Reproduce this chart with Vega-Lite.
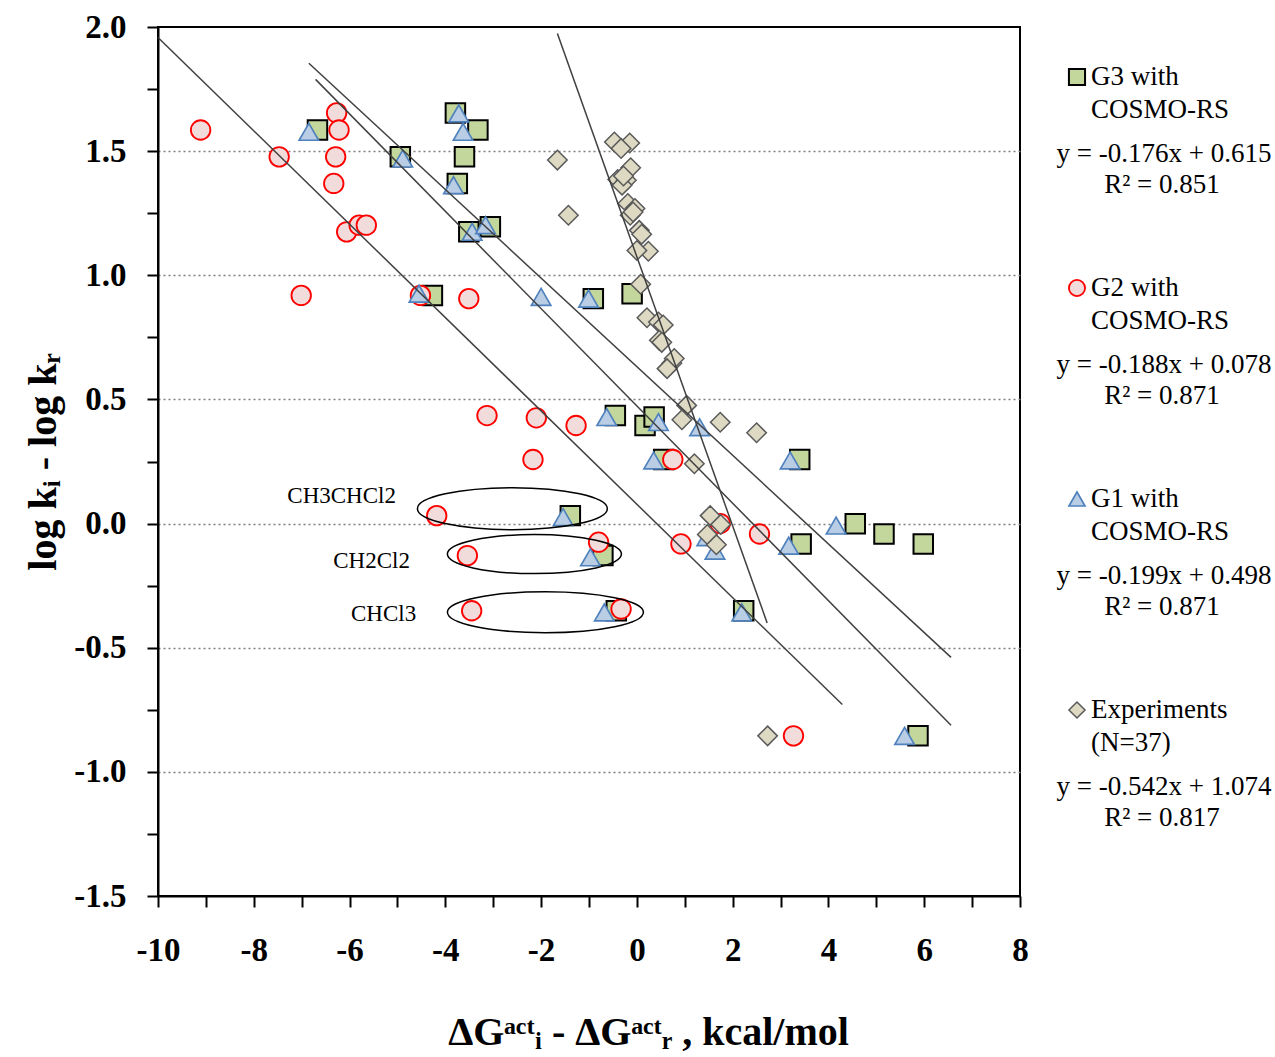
{
  "$schema": "https://vega.github.io/schema/vega-lite/v6.json",
  "width": 862,
  "height": 869,
  "autosize": {"type": "none"},
  "padding": {"left": 158, "top": 27, "right": 255, "bottom": 161},
  "background": "white",
  "config": {"view": {"stroke": "black", "strokeWidth": 2}, "font": "Liberation Serif"},
  "datasets": {
    "pts": [
      {"s": "G3", "x": -6.67, "y": 1.585}, {"s": "G3", "x": -4.94, "y": 1.477}, {"s": "G3", "x": -3.79, "y": 1.654}, {"s": "G3", "x": -3.32, "y": 1.585}, {"s": "G3", "x": -3.6, "y": 1.477},
      {"s": "G3", "x": -3.75, "y": 1.37}, {"s": "G3", "x": -3.06, "y": 1.195}, {"s": "G3", "x": -3.51, "y": 1.175}, {"s": "G3", "x": -4.27, "y": 0.919}, {"s": "G3", "x": -0.91, "y": 0.906},
      {"s": "G3", "x": -0.1, "y": 0.926}, {"s": "G3", "x": -0.45, "y": 0.435}, {"s": "G3", "x": 0.17, "y": 0.395}, {"s": "G3", "x": 0.36, "y": 0.429}, {"s": "G3", "x": 0.56, "y": 0.258},
      {"s": "G3", "x": -1.39, "y": 0.032}, {"s": "G3", "x": -0.71, "y": -0.129}, {"s": "G3", "x": -0.43, "y": -0.351}, {"s": "G3", "x": 2.23, "y": -0.351}, {"s": "G3", "x": 3.4, "y": 0.258},
      {"s": "G3", "x": 4.56, "y": -0.001}, {"s": "G3", "x": 5.16, "y": -0.042}, {"s": "G3", "x": 5.98, "y": -0.082}, {"s": "G3", "x": 3.43, "y": -0.082}, {"s": "G3", "x": 5.87, "y": -0.855},
      {"s": "G2", "x": -9.11, "y": 1.585}, {"s": "G2", "x": -6.27, "y": 1.654}, {"s": "G2", "x": -6.22, "y": 1.585}, {"s": "G2", "x": -7.47, "y": 1.477}, {"s": "G2", "x": -6.29, "y": 1.477},
      {"s": "G2", "x": -6.33, "y": 1.37}, {"s": "G2", "x": -6.06, "y": 1.175}, {"s": "G2", "x": -5.8, "y": 1.202}, {"s": "G2", "x": -5.65, "y": 1.202}, {"s": "G2", "x": -7.01, "y": 0.919},
      {"s": "G2", "x": -4.52, "y": 0.919}, {"s": "G2", "x": -3.51, "y": 0.906}, {"s": "G2", "x": -3.13, "y": 0.435}, {"s": "G2", "x": -2.1, "y": 0.426}, {"s": "G2", "x": -1.27, "y": 0.395},
      {"s": "G2", "x": -2.17, "y": 0.258}, {"s": "G2", "x": 0.75, "y": 0.258}, {"s": "G2", "x": -4.18, "y": 0.032}, {"s": "G2", "x": -3.54, "y": -0.129}, {"s": "G2", "x": -0.8, "y": -0.075},
      {"s": "G2", "x": -3.45, "y": -0.351}, {"s": "G2", "x": -0.33, "y": -0.344}, {"s": "G2", "x": 1.74, "y": 0.0}, {"s": "G2", "x": 0.92, "y": -0.082}, {"s": "G2", "x": 2.56, "y": -0.042},
      {"s": "G2", "x": 3.27, "y": -0.855},
      {"s": "G1", "x": -6.85, "y": 1.578}, {"s": "G1", "x": -4.89, "y": 1.47}, {"s": "G1", "x": -3.72, "y": 1.652}, {"s": "G1", "x": -3.63, "y": 1.578}, {"s": "G1", "x": -3.83, "y": 1.363},
      {"s": "G1", "x": -3.44, "y": 1.175}, {"s": "G1", "x": -3.16, "y": 1.202}, {"s": "G1", "x": -4.55, "y": 0.926}, {"s": "G1", "x": -2.0, "y": 0.913}, {"s": "G1", "x": -1.01, "y": 0.906},
      {"s": "G1", "x": -0.63, "y": 0.429}, {"s": "G1", "x": 0.45, "y": 0.409}, {"s": "G1", "x": 1.31, "y": 0.388}, {"s": "G1", "x": 0.35, "y": 0.254}, {"s": "G1", "x": -1.54, "y": 0.026},
      {"s": "G1", "x": -0.97, "y": -0.136}, {"s": "G1", "x": -0.68, "y": -0.358}, {"s": "G1", "x": 2.19, "y": -0.358}, {"s": "G1", "x": 1.46, "y": -0.055}, {"s": "G1", "x": 1.63, "y": -0.109},
      {"s": "G1", "x": 3.2, "y": 0.254}, {"s": "G1", "x": 4.16, "y": -0.008}, {"s": "G1", "x": 3.17, "y": -0.089}, {"s": "G1", "x": 5.59, "y": -0.855},
      {"s": "Exp", "x": -1.66, "y": 1.464}, {"s": "Exp", "x": -1.43, "y": 1.242}, {"s": "Exp", "x": -0.47, "y": 1.537}, {"s": "Exp", "x": -0.15, "y": 1.533}, {"s": "Exp", "x": -0.33, "y": 1.511},
      {"s": "Exp", "x": -0.13, "y": 1.433}, {"s": "Exp", "x": -0.4, "y": 1.386}, {"s": "Exp", "x": -0.22, "y": 1.383}, {"s": "Exp", "x": -0.31, "y": 1.363}, {"s": "Exp", "x": -0.28, "y": 1.4},
      {"s": "Exp", "x": -0.19, "y": 1.289}, {"s": "Exp", "x": -0.04, "y": 1.269}, {"s": "Exp", "x": -0.14, "y": 1.242}, {"s": "Exp", "x": -0.08, "y": 1.255}, {"s": "Exp", "x": 0.05, "y": 1.181},
      {"s": "Exp", "x": 0.1, "y": 1.165}, {"s": "Exp", "x": 0.24, "y": 1.097}, {"s": "Exp", "x": 0.0, "y": 1.1}, {"s": "Exp", "x": 0.08, "y": 0.964}, {"s": "Exp", "x": 0.21, "y": 0.829},
      {"s": "Exp", "x": 0.45, "y": 0.812}, {"s": "Exp", "x": 0.55, "y": 0.8}, {"s": "Exp", "x": 0.47, "y": 0.738}, {"s": "Exp", "x": 0.52, "y": 0.73}, {"s": "Exp", "x": 0.73, "y": 0.646},
      {"s": "Exp", "x": 0.78, "y": 0.665}, {"s": "Exp", "x": 0.63, "y": 0.624}, {"s": "Exp", "x": 1.04, "y": 0.476}, {"s": "Exp", "x": 0.94, "y": 0.418}, {"s": "Exp", "x": 1.74, "y": 0.408},
      {"s": "Exp", "x": 2.5, "y": 0.366}, {"s": "Exp", "x": 1.2, "y": 0.241}, {"s": "Exp", "x": 1.53, "y": 0.032}, {"s": "Exp", "x": 1.75, "y": -0.004}, {"s": "Exp", "x": 1.47, "y": -0.044},
      {"s": "Exp", "x": 1.66, "y": -0.085}, {"s": "Exp", "x": 2.73, "y": -0.855}
    ],
    "fits": [
      {"s": "G3", "x": -6.85, "y": 1.854}, {"s": "G3", "x": 6.56, "y": -0.539},
      {"s": "G2", "x": -10.0, "y": 1.958}, {"s": "G2", "x": 4.29, "y": -0.729},
      {"s": "G1", "x": -6.71, "y": 1.789}, {"s": "G1", "x": 6.56, "y": -0.812},
      {"s": "Exp", "x": -1.66, "y": 1.974}, {"s": "Exp", "x": 2.72, "y": -0.4}
    ],
    "ellipses": [
      {"label": "CH3CHCl2", "cx": -2.6, "cy": 0.06, "tx": -7.3, "ty": 0.113},
      {"label": "CH2Cl2", "cx": -2.14, "cy": -0.123, "tx": -6.34, "ty": -0.149},
      {"label": "CHCl3", "cx": -1.91, "cy": -0.357, "tx": -5.97, "ty": -0.363}
    ],
    "legend": [
      {"s": "G3", "name1": "G3 with", "name2": "COSMO-RS", "eq": "y = -0.176x + 0.615", "r2": "R² = 0.851"},
      {"s": "G2", "name1": "G2 with", "name2": "COSMO-RS", "eq": "y = -0.188x + 0.078", "r2": "R² = 0.871"},
      {"s": "G1", "name1": "G1 with", "name2": "COSMO-RS", "eq": "y = -0.199x + 0.498", "r2": "R² = 0.871"},
      {"s": "Exp", "name1": "Experiments", "name2": "(N=37)", "eq": "y = -0.542x + 1.074", "r2": "R² = 0.817"}
    ]
  },
  "layer": [
    {
      "layer": [
        {
          "data": {"name": "pts"},
          "mark": {"type": "point", "filled": true, "opacity": 1},
          "encoding": {
            "x": {
              "field": "x", "type": "quantitative",
              "scale": {"domain": [-10, 8], "nice": false, "zero": false},
              "axis": {
                "title": "ΔGᵃᶜᵗᵢ - ΔGᵃᶜᵗᵣ , kcal/mol",
                "values": [-10, -9, -8, -7, -6, -5, -4, -3, -2, -1, 0, 1, 2, 3, 4, 5, 6, 7, 8],
                "labelExpr": "datum.value % 2 === 0 ? replace(format(datum.value, 'd'), '\u2212', '-') : ''",
                "labelFont": "Liberation Serif", "labelFontSize": 33, "labelFontWeight": "bold", "labelColor": "black",
                "labelPadding": 27, "labelOverlap": false, "labelFlush": false,
                "tickSize": 11, "tickWidth": 2, "tickColor": "black",
                "domainColor": "black", "domainWidth": 2, "grid": false,
                "titleFont": "Liberation Serif", "titleFontSize": 40, "titleFontWeight": "bold", "titleColor": "black",
                "titleX": 490, "titleY": 148, "titleBaseline": "alphabetic"
              }
            },
            "y": {
              "field": "y", "type": "quantitative",
              "scale": {"domain": [-1.5, 2.0], "nice": false, "zero": false},
              "axis": {
                "title": "log kᵢ - log kᵣ",
                "values": [-1.5, -1.25, -1, -0.75, -0.5, -0.25, 0, 0.25, 0.5, 0.75, 1, 1.25, 1.5, 1.75, 2],
                "labelExpr": "datum.value % 0.5 === 0 ? replace(format(datum.value, '.1f'), '\u2212', '-') : ''",
                "labelFont": "Liberation Serif", "labelFontSize": 33, "labelFontWeight": "bold", "labelColor": "black",
                "labelPadding": 21, "labelOverlap": false, "labelFlush": false,
                "tickSize": 11, "tickWidth": 2, "tickColor": "black",
                "domainColor": "black", "domainWidth": 2,
                "grid": true, "gridColor": "#7f7f7f", "gridDash": [2, 3], "gridWidth": 1.5,
                "gridOpacity": {"condition": {"test": "datum.value % 0.5 === 0 && datum.value > -1.5 && datum.value < 2", "value": 1}, "value": 0},
                "titleFont": "Liberation Serif", "titleFontSize": 40, "titleFontWeight": "bold", "titleColor": "black",
                "titlePadding": 10
              }
            },
            "shape": {"field": "s", "type": "nominal", "scale": {"domain": ["G3", "G2", "G1", "Exp"], "range": ["square", "circle", "triangle-up", "diamond"]}, "legend": null},
            "fill": {"field": "s", "type": "nominal", "scale": {"domain": ["G3", "G2", "G1", "Exp"], "range": ["#C3D69B", "#F2DCDB", "#B9CDE5", "#DDD9C3"]}, "legend": null},
            "stroke": {"field": "s", "type": "nominal", "scale": {"domain": ["G3", "G2", "G1", "Exp"], "range": ["#000000", "#FF0000", "#4F81BD", "#595959"]}, "legend": null},
            "strokeWidth": {"field": "s", "type": "nominal", "scale": {"domain": ["G3", "G2", "G1", "Exp"], "range": [2, 1.5, 1.5, 1.2]}, "legend": null},
            "size": {"field": "s", "type": "nominal", "scale": {"domain": ["G3", "G2", "G1", "Exp"], "range": [380, 380, 530, 400]}, "legend": null}
          }
        },
        {
          "data": {"name": "fits"},
          "mark": {"type": "line", "color": "#404040", "strokeWidth": 1.5},
          "encoding": {
            "x": {"field": "x", "type": "quantitative"},
            "y": {"field": "y", "type": "quantitative"},
            "detail": {"field": "s", "type": "nominal"}
          }
        },
        {
          "data": {"name": "ellipses"},
          "transform": [{"filter": "datum.label === 'CH3CHCl2'"}],
          "mark": {"type": "point", "filled": false, "opacity": 1, "color": "black", "strokeWidth": 1.5, "size": 38416,
                   "shape": "M -0.969 0 A 0.969 0.214 0 1 0 0.969 0 A 0.969 0.214 0 1 0 -0.969 0 Z"},
          "encoding": {"x": {"field": "cx", "type": "quantitative"}, "y": {"field": "cy", "type": "quantitative"}}
        },
        {
          "data": {"name": "ellipses"},
          "transform": [{"filter": "datum.label === 'CH2Cl2'"}],
          "mark": {"type": "point", "filled": false, "opacity": 1, "color": "black", "strokeWidth": 1.5, "size": 38416,
                   "shape": "M -0.888 0 A 0.888 0.199 0 1 0 0.888 0 A 0.888 0.199 0 1 0 -0.888 0 Z"},
          "encoding": {"x": {"field": "cx", "type": "quantitative"}, "y": {"field": "cy", "type": "quantitative"}}
        },
        {
          "data": {"name": "ellipses"},
          "transform": [{"filter": "datum.label === 'CHCl3'"}],
          "mark": {"type": "point", "filled": false, "opacity": 1, "color": "black", "strokeWidth": 1.5, "size": 38416,
                   "shape": "M -1 0 A 1 0.209 0 1 0 1 0 A 1 0.209 0 1 0 -1 0 Z"},
          "encoding": {"x": {"field": "cx", "type": "quantitative"}, "y": {"field": "cy", "type": "quantitative"}}
        },
        {
          "data": {"name": "ellipses"},
          "mark": {"type": "text", "align": "left", "baseline": "middle", "font": "Liberation Serif", "fontSize": 23, "color": "black"},
          "encoding": {"x": {"field": "tx", "type": "quantitative"}, "y": {"field": "ty", "type": "quantitative"}, "text": {"field": "label"}}
        }
      ]
    },
    {
      "data": {"name": "legend"},
      "encoding": {
        "x": {"datum": 9.19, "type": "quantitative", "scale": {"domain": [-10, 8], "nice": false, "zero": false}, "title": "ΔGᵃᶜᵗᵢ - ΔGᵃᶜᵗᵣ , kcal/mol"},
        "y": {"field": "s", "type": "nominal", "scale": {"type": "point", "domain": ["G3", "G2", "G1", "Exp"], "range": [50, 683], "padding": 0}, "axis": null}
      },
      "layer": [
        {
          "mark": {"type": "point", "filled": true, "opacity": 1, "size": 260},
          "encoding": {
            "shape": {"field": "s", "type": "nominal", "legend": null},
            "fill": {"field": "s", "type": "nominal", "legend": null},
            "stroke": {"field": "s", "type": "nominal", "legend": null},
            "strokeWidth": {"field": "s", "type": "nominal", "legend": null}
          }
        },
        {
          "mark": {"type": "text", "align": "left", "baseline": "middle", "dx": 14, "dy": 0, "font": "Liberation Serif", "fontSize": 27, "color": "black"},
          "encoding": {"text": {"field": "name1"}}
        },
        {
          "mark": {"type": "text", "align": "left", "baseline": "middle", "dx": 14, "dy": 33, "font": "Liberation Serif", "fontSize": 27, "color": "black"},
          "encoding": {"text": {"field": "name2"}}
        },
        {
          "mark": {"type": "text", "align": "center", "baseline": "middle", "dx": 87, "dy": 77, "font": "Liberation Serif", "fontSize": 27, "color": "black"},
          "encoding": {"text": {"field": "eq"}}
        },
        {
          "mark": {"type": "text", "align": "center", "baseline": "middle", "dx": 85, "dy": 108, "font": "Liberation Serif", "fontSize": 27, "color": "black"},
          "encoding": {"text": {"field": "r2"}}
        }
      ]
    }
  ],
  "resolve": {"scale": {"y": "independent"}}
}
